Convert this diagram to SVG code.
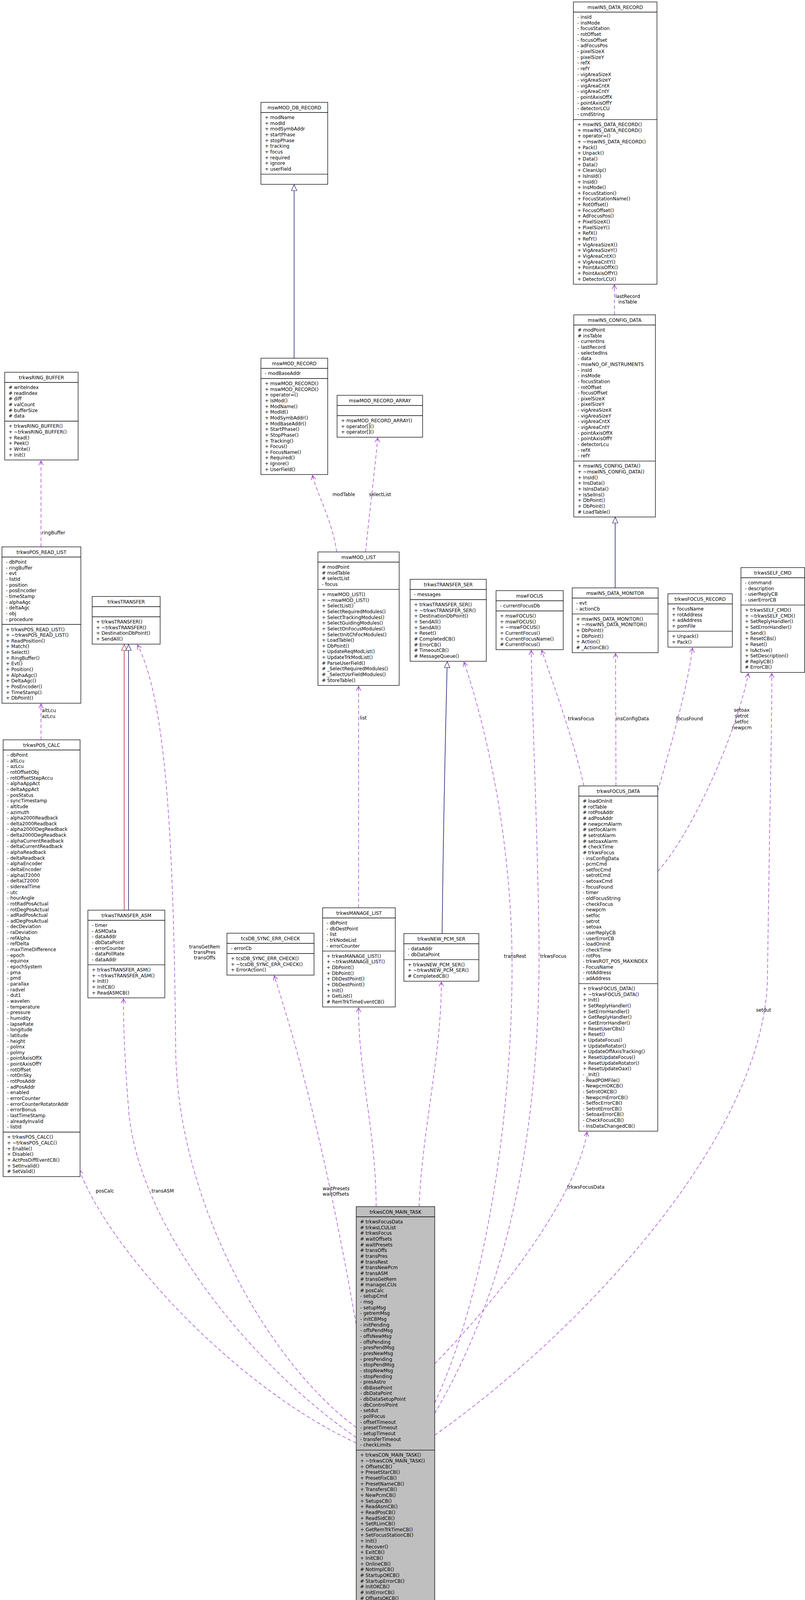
<svg xmlns="http://www.w3.org/2000/svg" width="2061" height="4432" viewBox="0 0 2061 4432">
<style>
.b{fill:#fff;stroke:#000;stroke-width:1.3}
.m{fill:#bfbfbf;stroke:#000;stroke-width:1.3}
.s{stroke:#000;stroke-width:1.3}
.t{font-family:"DejaVu Sans",sans-serif;font-size:12px;fill:#000}
.c{text-anchor:middle}
.u{fill:none;stroke:#9a32cd;stroke-width:1.3;stroke-dasharray:9,6;marker-end:url(#v)}
.i{fill:none;stroke:#191970;stroke-width:1.5;marker-end:url(#tri)}
.r{fill:none;stroke:#b22222;stroke-width:1.5;marker-end:url(#trr)}
</style>
<defs>
<marker id="v" markerWidth="14" markerHeight="14" refX="12" refY="7" orient="auto" markerUnits="userSpaceOnUse"><path d="M1,1 L12,7 L1,13 M4,7 L12,7" fill="none" stroke="#9a32cd" stroke-width="1.4"/></marker>
<marker id="tri" markerWidth="18" markerHeight="16" refX="16" refY="8" orient="auto" markerUnits="userSpaceOnUse"><path d="M1,1 L16,8 L1,15 Z" fill="#fff" stroke="#191970" stroke-width="1.2"/></marker>
<marker id="trr" markerWidth="18" markerHeight="16" refX="16" refY="8" orient="auto" markerUnits="userSpaceOnUse"><path d="M1,1 L16,8 L1,15 Z" fill="#fff" stroke="#b22222" stroke-width="1.2"/></marker>
</defs>
<rect width="2061" height="4432" fill="#fff"/>

<g id="connectors">
<path class="u" d="M1573,806 L1573,729"/>
<path class="i" d="M1575,1505 L1575,1324"/>
<path class="i" d="M753,917 L753,473"/>
<path class="u" d="M862,1413 C850,1330 810,1260 800,1217"/>
<path class="u" d="M936,1413 C945,1320 960,1200 967,1121"/>
<path class="u" d="M918,2324 L918,1757"/>
<path class="i" d="M1132,2390 C1135,2100 1140,1900 1145,1694"/>
<path class="r" d="M318,2330 L318,1650"/>
<path class="i" d="M329,2330 L329,1650"/>
<path class="u" d="M912,3654 C700,3500 460,3100 450,2700 C445,2200 430,1800 352,1651"/>
<path class="u" d="M912,3680 C650,3500 360,3150 330,2850 C318,2700 316,2620 316,2557"/>
<path class="u" d="M912,3694 C600,3550 280,3200 203,2995"/>
<path class="u" d="M105,1894 L105,1802"/>
<path class="u" d="M105,1400 L105,1180"/>
<path class="u" d="M912,3390 C860,3100 800,2800 702,2498"/>
<path class="u" d="M963,3089 C963,2900 918,2750 918,2580"/>
<path class="u" d="M1073,3089 C1080,2900 1130,2700 1130,2514"/>
<path class="u" d="M1113,3591 C1250,3300 1320,2800 1310,2400 C1300,2100 1240,1850 1188,1695"/>
<path class="u" d="M1113,3618 C1300,3300 1385,2900 1380,2400 C1375,2100 1365,1900 1360,1665"/>
<path class="u" d="M1495,2012 C1470,1900 1420,1760 1387,1665"/>
<path class="u" d="M1577,2012 L1576,1673"/>
<path class="u" d="M1684,2025 C1720,1900 1760,1760 1773,1659"/>
<path class="u" d="M1684,2230 C1760,2150 1880,1900 1916,1724"/>
<path class="u" d="M1113,3674 C1500,3400 1960,2900 1965,2500 C1970,2100 1976,1900 1976,1724"/>
<path class="u" d="M1113,3491 C1300,3300 1480,3050 1503,2898"/>
<text class="t c" x="1607" y="763">lastRecord</text>
<text class="t c" x="1607" y="777">insTable</text>
<text class="t c" x="880" y="1270">modTable</text>
<text class="t c" x="973" y="1270">selectList</text>
<text class="t" x="921" y="1842">list</text>
<text class="t" x="107" y="1368">ringBuffer</text>
<text class="t" x="107" y="1823">altLcu</text>
<text class="t" x="107" y="1838">azLcu</text>
<text class="t c" x="524" y="2428">transGetRem</text>
<text class="t c" x="524" y="2442">transPres</text>
<text class="t c" x="524" y="2456">transOffs</text>
<text class="t" x="1290" y="2452">transRest</text>
<text class="t" x="1383" y="2452">trkwsFocus</text>
<text class="t" x="1454" y="1844">trkwsFocus</text>
<text class="t" x="1577" y="1844">insConfigData</text>
<text class="t" x="1731" y="1844">focusFound</text>
<text class="t c" x="1899" y="1822">setoax</text>
<text class="t c" x="1899" y="1837">setrot</text>
<text class="t c" x="1899" y="1852">setfoc</text>
<text class="t c" x="1899" y="1867">newpcm</text>
<text class="t c" x="1955" y="2590">setdut</text>
<text class="t" x="1452" y="3043">trkwsFocusData</text>
<text class="t" x="826" y="3047">waitPresets</text>
<text class="t" x="826" y="3061">waitOffsets</text>
<text class="t" x="245" y="3053">posCalc</text>
<text class="t" x="388" y="3053">transASM</text>
</g>

<g id="mswINS_DATA_RECORD" transform="translate(1468,5)">
<rect class="b" width="214" height="722.6"/><line class="s" x1="0" x2="214" y1="26" y2="26"/><line class="s" x1="0" x2="214" y1="301.05" y2="301.05"/>
<text class="t c" x="107" y="17.5">mswINS_DATA_RECORD</text>
<text class="t" x="10" y="43"><tspan x="10">- insId</tspan><tspan x="10" dy="14.65">- insMode</tspan><tspan x="10" dy="14.65">- focusStation</tspan><tspan x="10" dy="14.65">- rotOffset</tspan><tspan x="10" dy="14.65">- focusOffset</tspan><tspan x="10" dy="14.65">- adFocusPos</tspan><tspan x="10" dy="14.65">- pixelSizeX</tspan><tspan x="10" dy="14.65">- pixelSizeY</tspan><tspan x="10" dy="14.65">- refX</tspan><tspan x="10" dy="14.65">- refY</tspan><tspan x="10" dy="14.65">- vigAreaSizeX</tspan><tspan x="10" dy="14.65">- vigAreaSizeY</tspan><tspan x="10" dy="14.65">- vigAreaCntX</tspan><tspan x="10" dy="14.65">- vigAreaCntY</tspan><tspan x="10" dy="14.65">- pointAxisOffX</tspan><tspan x="10" dy="14.65">- pointAxisOffY</tspan><tspan x="10" dy="14.65">- detectorLCU</tspan><tspan x="10" dy="14.65">- cmdString</tspan></text>
<text class="t" x="10" y="318"><tspan x="10">+ mswINS_DATA_RECORD()</tspan><tspan x="10" dy="14.65">+ mswINS_DATA_RECORD()</tspan><tspan x="10" dy="14.65">+ operator=()</tspan><tspan x="10" dy="14.65">+ ~mswINS_DATA_RECORD()</tspan><tspan x="10" dy="14.65">+ Pack()</tspan><tspan x="10" dy="14.65">+ Unpack()</tspan><tspan x="10" dy="14.65">+ Data()</tspan><tspan x="10" dy="14.65">+ Data()</tspan><tspan x="10" dy="14.65">+ CleanUp()</tspan><tspan x="10" dy="14.65">+ IsInsId()</tspan><tspan x="10" dy="14.65">+ InsId()</tspan><tspan x="10" dy="14.65">+ InsMode()</tspan><tspan x="10" dy="14.65">+ FocusStation()</tspan><tspan x="10" dy="14.65">+ FocusStationName()</tspan><tspan x="10" dy="14.65">+ RotOffset()</tspan><tspan x="10" dy="14.65">+ FocusOffset()</tspan><tspan x="10" dy="14.65">+ AdFocusPos()</tspan><tspan x="10" dy="14.65">+ PixelSizeX()</tspan><tspan x="10" dy="14.65">+ PixelSizeY()</tspan><tspan x="10" dy="14.65">+ RefX()</tspan><tspan x="10" dy="14.65">+ RefY()</tspan><tspan x="10" dy="14.65">+ VigAreaSizeX()</tspan><tspan x="10" dy="14.65">+ VigAreaSizeY()</tspan><tspan x="10" dy="14.65">+ VigAreaCntX()</tspan><tspan x="10" dy="14.65">+ VigAreaCntY()</tspan><tspan x="10" dy="14.65">+ PointAxisOffX()</tspan><tspan x="10" dy="14.65">+ PointAxisOffY()</tspan><tspan x="10" dy="14.65">+ DetectorLCU()</tspan></text>
</g>

<g id="mswINS_CONFIG_DATA" transform="translate(1469,806)">
<rect class="b" width="209" height="517.5"/><line class="s" x1="0" x2="209" y1="26" y2="26"/><line class="s" x1="0" x2="209" y1="374.3" y2="374.3"/>
<text class="t c" x="104.5" y="17.5">mswINS_CONFIG_DATA</text>
<text class="t" x="10" y="43"><tspan x="10"># modPoint</tspan><tspan x="10" dy="14.65"># insTable</tspan><tspan x="10" dy="14.65">- currentIns</tspan><tspan x="10" dy="14.65">- lastRecord</tspan><tspan x="10" dy="14.65">- selectedIns</tspan><tspan x="10" dy="14.65">- data</tspan><tspan x="10" dy="14.65">- mswNO_OF_INSTRUMENTS</tspan><tspan x="10" dy="14.65">- insId</tspan><tspan x="10" dy="14.65">- insMode</tspan><tspan x="10" dy="14.65">- focusStation</tspan><tspan x="10" dy="14.65">- rotOffset</tspan><tspan x="10" dy="14.65">- focusOffset</tspan><tspan x="10" dy="14.65">- pixelSizeX</tspan><tspan x="10" dy="14.65">- pixelSizeY</tspan><tspan x="10" dy="14.65">- vigAreaSizeX</tspan><tspan x="10" dy="14.65">- vigAreaSizeY</tspan><tspan x="10" dy="14.65">- vigAreaCntX</tspan><tspan x="10" dy="14.65">- vigAreaCntY</tspan><tspan x="10" dy="14.65">- pointAxisOffX</tspan><tspan x="10" dy="14.65">- pointAxisOffY</tspan><tspan x="10" dy="14.65">- detectorLcu</tspan><tspan x="10" dy="14.65">- refX</tspan><tspan x="10" dy="14.65">- refY</tspan></text>
<text class="t" x="10" y="391.3"><tspan x="10">+ mswINS_CONFIG_DATA()</tspan><tspan x="10" dy="14.65">+ ~mswINS_CONFIG_DATA()</tspan><tspan x="10" dy="14.65">+ InsId()</tspan><tspan x="10" dy="14.65">+ InsData()</tspan><tspan x="10" dy="14.65">+ IsInsData()</tspan><tspan x="10" dy="14.65">+ IsSelIns()</tspan><tspan x="10" dy="14.65">+ DbPoint()</tspan><tspan x="10" dy="14.65">+ DbPoint()</tspan><tspan x="10" dy="14.65"># LoadTable()</tspan></text>
</g>

<g id="mswINS_DATA_MONITOR" transform="translate(1465,1505)">
<rect class="b" width="220" height="165.9"/><line class="s" x1="0" x2="220" y1="26" y2="26"/><line class="s" x1="0" x2="220" y1="66.65" y2="66.65"/>
<text class="t c" x="110" y="17.5">mswINS_DATA_MONITOR</text>
<text class="t" x="10" y="43"><tspan x="10">- evt</tspan><tspan x="10" dy="14.65">- actionCb</tspan></text>
<text class="t" x="10" y="83.65"><tspan x="10">+ mswINS_DATA_MONITOR()</tspan><tspan x="10" dy="14.65">+ ~mswINS_DATA_MONITOR()</tspan><tspan x="10" dy="14.65">+ DbPoint()</tspan><tspan x="10" dy="14.65">+ DbPoint()</tspan><tspan x="10" dy="14.65">+ Action()</tspan><tspan x="10" dy="14.65"># _ActionCB()</tspan></text>
</g>

<g id="mswFOCUS" transform="translate(1270,1512)">
<rect class="b" width="172" height="151.25"/><line class="s" x1="0" x2="172" y1="26" y2="26"/><line class="s" x1="0" x2="172" y1="52" y2="52"/>
<text class="t c" x="86" y="17.5">mswFOCUS</text>
<text class="t" x="10" y="43">- currentFocusDb</text>
<text class="t" x="10" y="69"><tspan x="10">+ mswFOCUS()</tspan><tspan x="10" dy="14.65">+ mswFOCUS()</tspan><tspan x="10" dy="14.65">+ ~mswFOCUS()</tspan><tspan x="10" dy="14.65">+ CurrentFocus()</tspan><tspan x="10" dy="14.65">+ CurrentFocusName()</tspan><tspan x="10" dy="14.65"># CurrentFocus()</tspan></text>
</g>

<g id="trkwsFOCUS_RECORD" transform="translate(1710,1520)">
<rect class="b" width="165" height="136.6"/><line class="s" x1="0" x2="165" y1="26" y2="26"/><line class="s" x1="0" x2="165" y1="95.95" y2="95.95"/>
<text class="t c" x="82.5" y="17.5">trkwsFOCUS_RECORD</text>
<text class="t" x="10" y="43"><tspan x="10">+ focusName</tspan><tspan x="10" dy="14.65">+ rotAddress</tspan><tspan x="10" dy="14.65">+ adAddress</tspan><tspan x="10" dy="14.65">+ pomFile</tspan></text>
<text class="t" x="10" y="112.95"><tspan x="10">+ Unpack()</tspan><tspan x="10" dy="14.65">+ Pack()</tspan></text>
</g>

<g id="trkwsSELF_CMD" transform="translate(1897,1453)">
<rect class="b" width="163" height="268.45"/><line class="s" x1="0" x2="163" y1="26" y2="26"/><line class="s" x1="0" x2="163" y1="95.95" y2="95.95"/>
<text class="t c" x="81.5" y="17.5">trkwsSELF_CMD</text>
<text class="t" x="10" y="43"><tspan x="10">- command</tspan><tspan x="10" dy="14.65">- description</tspan><tspan x="10" dy="14.65">- userReplyCB</tspan><tspan x="10" dy="14.65">- userErrorCB</tspan></text>
<text class="t" x="10" y="112.95"><tspan x="10">+ trkwsSELF_CMD()</tspan><tspan x="10" dy="14.65">+ ~trkwsSELF_CMD()</tspan><tspan x="10" dy="14.65">+ SetReplyHandler()</tspan><tspan x="10" dy="14.65">+ SetErrorHandler()</tspan><tspan x="10" dy="14.65">+ Send()</tspan><tspan x="10" dy="14.65">+ ResetCBs()</tspan><tspan x="10" dy="14.65">+ Reset()</tspan><tspan x="10" dy="14.65">+ IsActive()</tspan><tspan x="10" dy="14.65">+ SetDescription()</tspan><tspan x="10" dy="14.65"># ReplyCB()</tspan><tspan x="10" dy="14.65"># ErrorCB()</tspan></text>
</g>

<g id="trkwsFOCUS_DATA" transform="translate(1482,2012)">
<rect class="b" width="202" height="883.75"/><line class="s" x1="0" x2="202" y1="26" y2="26"/><line class="s" x1="0" x2="202" y1="506.15" y2="506.15"/>
<text class="t c" x="101" y="17.5">trkwsFOCUS_DATA</text>
<text class="t" x="10" y="43"><tspan x="10"># loadOnInit</tspan><tspan x="10" dy="14.65"># rotTable</tspan><tspan x="10" dy="14.65"># rotPosAddr</tspan><tspan x="10" dy="14.65"># adPosAddr</tspan><tspan x="10" dy="14.65"># newpcmAlarm</tspan><tspan x="10" dy="14.65"># setfocAlarm</tspan><tspan x="10" dy="14.65"># setrotAlarm</tspan><tspan x="10" dy="14.65"># setoaxAlarm</tspan><tspan x="10" dy="14.65"># checkTime</tspan><tspan x="10" dy="14.65"># trkwsFocus</tspan><tspan x="10" dy="14.65">- insConfigData</tspan><tspan x="10" dy="14.65">- pcmCmd</tspan><tspan x="10" dy="14.65">- setfocCmd</tspan><tspan x="10" dy="14.65">- setrotCmd</tspan><tspan x="10" dy="14.65">- setoaxCmd</tspan><tspan x="10" dy="14.65">- focusFound</tspan><tspan x="10" dy="14.65">- timer</tspan><tspan x="10" dy="14.65">- oldFocusString</tspan><tspan x="10" dy="14.65">- checkFocus</tspan><tspan x="10" dy="14.65">- newpcm</tspan><tspan x="10" dy="14.65">- setfoc</tspan><tspan x="10" dy="14.65">- setrot</tspan><tspan x="10" dy="14.65">- setoax</tspan><tspan x="10" dy="14.65">- userReplyCB</tspan><tspan x="10" dy="14.65">- userErrorCB</tspan><tspan x="10" dy="14.65">- loadOnInit</tspan><tspan x="10" dy="14.65">- checkTime</tspan><tspan x="10" dy="14.65">- rotPos</tspan><tspan x="10" dy="14.65">- trkwsROT_POS_MAXINDEX</tspan><tspan x="10" dy="14.65">- FocusName</tspan><tspan x="10" dy="14.65">- rotAddress</tspan><tspan x="10" dy="14.65">- adAddress</tspan></text>
<text class="t" x="10" y="523.15"><tspan x="10">+ trkwsFOCUS_DATA()</tspan><tspan x="10" dy="14.65">+ ~trkwsFOCUS_DATA()</tspan><tspan x="10" dy="14.65">+ Init()</tspan><tspan x="10" dy="14.65">+ SetReplyHandler()</tspan><tspan x="10" dy="14.65">+ SetErrorHandler()</tspan><tspan x="10" dy="14.65">+ GetReplyHandler()</tspan><tspan x="10" dy="14.65">+ GetErrorHandler()</tspan><tspan x="10" dy="14.65">+ ResetUserCBs()</tspan><tspan x="10" dy="14.65">+ Reset()</tspan><tspan x="10" dy="14.65">+ UpdateFocus()</tspan><tspan x="10" dy="14.65">+ UpdateRotator()</tspan><tspan x="10" dy="14.65">+ UpdateOffAxisTracking()</tspan><tspan x="10" dy="14.65">+ ResetUpdateFocus()</tspan><tspan x="10" dy="14.65">+ ResetUpdateRotator()</tspan><tspan x="10" dy="14.65">+ ResetUpdateOax()</tspan><tspan x="10" dy="14.65">- _Init()</tspan><tspan x="10" dy="14.65">- ReadPOMFile()</tspan><tspan x="10" dy="14.65">- NewpcmOKCB()</tspan><tspan x="10" dy="14.65">- SetrotOKCB()</tspan><tspan x="10" dy="14.65">- NewpcmErrorCB()</tspan><tspan x="10" dy="14.65">- SetfocErrorCB()</tspan><tspan x="10" dy="14.65">- SetrotErrorCB()</tspan><tspan x="10" dy="14.65">- SetoaxErrorCB()</tspan><tspan x="10" dy="14.65">- CheckFocusCB()</tspan><tspan x="10" dy="14.65">- InsDataChangedCB()</tspan></text>
</g>

<g id="mswMOD_DB_RECORD" transform="translate(668,262)">
<rect class="b" width="171" height="209.85"/><line class="s" x1="0" x2="171" y1="26" y2="26"/><line class="s" x1="0" x2="171" y1="183.85" y2="183.85"/>
<text class="t c" x="85.5" y="17.5">mswMOD_DB_RECORD</text>
<text class="t" x="10" y="43"><tspan x="10">+ modName</tspan><tspan x="10" dy="14.65">+ modId</tspan><tspan x="10" dy="14.65">+ modSymbAddr</tspan><tspan x="10" dy="14.65">+ startPhase</tspan><tspan x="10" dy="14.65">+ stopPhase</tspan><tspan x="10" dy="14.65">+ tracking</tspan><tspan x="10" dy="14.65">+ focus</tspan><tspan x="10" dy="14.65">+ required</tspan><tspan x="10" dy="14.65">+ ignore</tspan><tspan x="10" dy="14.65">+ userField</tspan></text>
</g>

<g id="mswMOD_RECORD" transform="translate(668,917)">
<rect class="b" width="171" height="297.75"/><line class="s" x1="0" x2="171" y1="26" y2="26"/><line class="s" x1="0" x2="171" y1="52" y2="52"/>
<text class="t c" x="85.5" y="17.5">mswMOD_RECORD</text>
<text class="t" x="10" y="43">- modBaseAddr</text>
<text class="t" x="10" y="69"><tspan x="10">+ mswMOD_RECORD()</tspan><tspan x="10" dy="14.65">+ mswMOD_RECORD()</tspan><tspan x="10" dy="14.65">+ operator=()</tspan><tspan x="10" dy="14.65">+ IsMod()</tspan><tspan x="10" dy="14.65">+ ModName()</tspan><tspan x="10" dy="14.65">+ ModId()</tspan><tspan x="10" dy="14.65">+ ModSymbAddr()</tspan><tspan x="10" dy="14.65">+ ModBaseAddr()</tspan><tspan x="10" dy="14.65">+ StartPhase()</tspan><tspan x="10" dy="14.65">+ StopPhase()</tspan><tspan x="10" dy="14.65">+ Tracking()</tspan><tspan x="10" dy="14.65">+ Focus()</tspan><tspan x="10" dy="14.65">+ FocusName()</tspan><tspan x="10" dy="14.65">+ Required()</tspan><tspan x="10" dy="14.65">+ Ignore()</tspan><tspan x="10" dy="14.65">+ UserField()</tspan></text>
</g>

<g id="mswMOD_RECORD_ARRAY" transform="translate(863,1012)">
<rect class="b" width="219" height="107.3"/><line class="s" x1="0" x2="219" y1="26" y2="26"/><line class="s" x1="0" x2="219" y1="52" y2="52"/>
<text class="t c" x="109.5" y="17.5">mswMOD_RECORD_ARRAY</text>
<text class="t" x="10" y="69"><tspan x="10">+ mswMOD_RECORD_ARRAY()</tspan><tspan x="10" dy="14.65">+ operator[]()</tspan><tspan x="10" dy="14.65">+ operator[]()</tspan></text>
</g>

<g id="mswMOD_LIST" transform="translate(814,1413)">
<rect class="b" width="208" height="341.7"/><line class="s" x1="0" x2="208" y1="26" y2="26"/><line class="s" x1="0" x2="208" y1="95.95" y2="95.95"/>
<text class="t c" x="104" y="17.5">mswMOD_LIST</text>
<text class="t" x="10" y="43"><tspan x="10"># modPoint</tspan><tspan x="10" dy="14.65"># modTable</tspan><tspan x="10" dy="14.65"># selectList</tspan><tspan x="10" dy="14.65">- focus</tspan></text>
<text class="t" x="10" y="112.95"><tspan x="10">+ mswMOD_LIST()</tspan><tspan x="10" dy="14.65">+ ~mswMOD_LIST()</tspan><tspan x="10" dy="14.65">+ SelectList()</tspan><tspan x="10" dy="14.65">+ SelectRequiredModules()</tspan><tspan x="10" dy="14.65">+ SelectTrackingModules()</tspan><tspan x="10" dy="14.65">+ SelectGuidingModules()</tspan><tspan x="10" dy="14.65">+ SelectOnFocusModules()</tspan><tspan x="10" dy="14.65">+ SelectInitChFocModules()</tspan><tspan x="10" dy="14.65">+ LoadTable()</tspan><tspan x="10" dy="14.65">+ DbPoint()</tspan><tspan x="10" dy="14.65">+ UpdateReqModList()</tspan><tspan x="10" dy="14.65">+ UpdateTrkModList()</tspan><tspan x="10" dy="14.65"># ParseUserField()</tspan><tspan x="10" dy="14.65"># _SelectRequiredModules()</tspan><tspan x="10" dy="14.65"># _SelectUsrFieldModules()</tspan><tspan x="10" dy="14.65"># StoreTable()</tspan></text>
</g>

<g id="trkwsMANAGE_LIST" transform="translate(826,2324)">
<rect class="b" width="186" height="253.8"/><line class="s" x1="0" x2="186" y1="26" y2="26"/><line class="s" x1="0" x2="186" y1="110.6" y2="110.6"/>
<text class="t c" x="93" y="17.5">trkwsMANAGE_LIST</text>
<text class="t" x="10" y="43"><tspan x="10">- dbPoint</tspan><tspan x="10" dy="14.65">- dbDestPoint</tspan><tspan x="10" dy="14.65">- list</tspan><tspan x="10" dy="14.65">- trkNodeList</tspan><tspan x="10" dy="14.65">- errorCounter</tspan></text>
<text class="t" x="10" y="127.6"><tspan x="10">+ trkwsMANAGE_LIST()</tspan><tspan x="10" dy="14.65">+ ~trkwsMANAGE_LIST()</tspan><tspan x="10" dy="14.65">+ DbPoint()</tspan><tspan x="10" dy="14.65">+ DbPoint()</tspan><tspan x="10" dy="14.65">+ DbDestPoint()</tspan><tspan x="10" dy="14.65">+ DbDestPoint()</tspan><tspan x="10" dy="14.65">+ Init()</tspan><tspan x="10" dy="14.65">+ GetList()</tspan><tspan x="10" dy="14.65"># RemTrkTimeEventCB()</tspan></text>
</g>

<g id="trkwsTRANSFER_SER" transform="translate(1050,1483)">
<rect class="b" width="195" height="209.85"/><line class="s" x1="0" x2="195" y1="26" y2="26"/><line class="s" x1="0" x2="195" y1="52" y2="52"/>
<text class="t c" x="97.5" y="17.5">trkwsTRANSFER_SER</text>
<text class="t" x="10" y="43">- messages</text>
<text class="t" x="10" y="69"><tspan x="10">+ trkwsTRANSFER_SER()</tspan><tspan x="10" dy="14.65">+ ~trkwsTRANSFER_SER()</tspan><tspan x="10" dy="14.65">+ DestinationDbPoint()</tspan><tspan x="10" dy="14.65">+ SendAll()</tspan><tspan x="10" dy="14.65">+ SendAll()</tspan><tspan x="10" dy="14.65">+ Reset()</tspan><tspan x="10" dy="14.65"># CompletedCB()</tspan><tspan x="10" dy="14.65"># ErrorCB()</tspan><tspan x="10" dy="14.65"># TimeoutCB()</tspan><tspan x="10" dy="14.65"># MessageQueue()</tspan></text>
</g>

<g id="trkwsNEW_PCM_SER" transform="translate(1034,2390)">
<rect class="b" width="192" height="121.95"/><line class="s" x1="0" x2="192" y1="26" y2="26"/><line class="s" x1="0" x2="192" y1="66.65" y2="66.65"/>
<text class="t c" x="96" y="17.5">trkwsNEW_PCM_SER</text>
<text class="t" x="10" y="43"><tspan x="10">- dataAddr</tspan><tspan x="10" dy="14.65">- dbDataPoint</tspan></text>
<text class="t" x="10" y="83.65"><tspan x="10">+ trkwsNEW_PCM_SER()</tspan><tspan x="10" dy="14.65">+ ~trkwsNEW_PCM_SER()</tspan><tspan x="10" dy="14.65"># CompletedCB()</tspan></text>
</g>

<g id="trkwsTRANSFER" transform="translate(236,1527)">
<rect class="b" width="174" height="121.95"/><line class="s" x1="0" x2="174" y1="26" y2="26"/><line class="s" x1="0" x2="174" y1="52" y2="52"/>
<text class="t c" x="87" y="17.5">trkwsTRANSFER</text>
<text class="t" x="10" y="69"><tspan x="10">+ trkwsTRANSFER()</tspan><tspan x="10" dy="14.65">+ ~trkwsTRANSFER()</tspan><tspan x="10" dy="14.65">+ DestinationDbPoint()</tspan><tspan x="10" dy="14.65">+ SendAll()</tspan></text>
</g>

<g id="trkwsTRANSFER_ASM" transform="translate(225,2330)">
<rect class="b" width="197" height="224.5"/><line class="s" x1="0" x2="197" y1="26" y2="26"/><line class="s" x1="0" x2="197" y1="139.9" y2="139.9"/>
<text class="t c" x="98.5" y="17.5">trkwsTRANSFER_ASM</text>
<text class="t" x="10" y="43"><tspan x="10">- timer</tspan><tspan x="10" dy="14.65">- ASMData</tspan><tspan x="10" dy="14.65">- dataAddr</tspan><tspan x="10" dy="14.65">- dbDataPoint</tspan><tspan x="10" dy="14.65">- errorCounter</tspan><tspan x="10" dy="14.65">- dataPollRate</tspan><tspan x="10" dy="14.65">- dataAddr</tspan></text>
<text class="t" x="10" y="156.9"><tspan x="10">+ trkwsTRANSFER_ASM()</tspan><tspan x="10" dy="14.65">+ ~trkwsTRANSFER_ASM()</tspan><tspan x="10" dy="14.65">+ Init()</tspan><tspan x="10" dy="14.65">+ InitCB()</tspan><tspan x="10" dy="14.65">+ ReadASMCB()</tspan></text>
</g>

<g id="tcsDB_SYNC_ERR_CHECK" transform="translate(581,2389)">
<rect class="b" width="223" height="107.3"/><line class="s" x1="0" x2="223" y1="26" y2="26"/><line class="s" x1="0" x2="223" y1="52" y2="52"/>
<text class="t c" x="111.5" y="17.5">tcsDB_SYNC_ERR_CHECK</text>
<text class="t" x="10" y="43">- errorCb</text>
<text class="t" x="10" y="69"><tspan x="10">+ tcsDB_SYNC_ERR_CHECK()</tspan><tspan x="10" dy="14.65">+ ~tcsDB_SYNC_ERR_CHECK()</tspan><tspan x="10" dy="14.65">+ ErrorAction()</tspan></text>
</g>

<g id="trkwsRING_BUFFER" transform="translate(12,953)">
<rect class="b" width="188" height="224.5"/><line class="s" x1="0" x2="188" y1="26" y2="26"/><line class="s" x1="0" x2="188" y1="125.25" y2="125.25"/>
<text class="t c" x="94" y="17.5">trkwsRING_BUFFER</text>
<text class="t" x="10" y="43"><tspan x="10"># writeIndex</tspan><tspan x="10" dy="14.65"># readIndex</tspan><tspan x="10" dy="14.65"># diff</tspan><tspan x="10" dy="14.65"># valCount</tspan><tspan x="10" dy="14.65"># bufferSize</tspan><tspan x="10" dy="14.65"># data</tspan></text>
<text class="t" x="10" y="142.25"><tspan x="10">+ trkwsRING_BUFFER()</tspan><tspan x="10" dy="14.65">+ ~trkwsRING_BUFFER()</tspan><tspan x="10" dy="14.65">+ Read()</tspan><tspan x="10" dy="14.65">+ Peek()</tspan><tspan x="10" dy="14.65">+ Write()</tspan><tspan x="10" dy="14.65">+ Init()</tspan></text>
</g>

<g id="trkwsPOS_READ_LIST" transform="translate(5,1400)">
<rect class="b" width="202" height="400.3"/><line class="s" x1="0" x2="202" y1="26" y2="26"/><line class="s" x1="0" x2="202" y1="198.5" y2="198.5"/>
<text class="t c" x="101" y="17.5">trkwsPOS_READ_LIST</text>
<text class="t" x="10" y="43"><tspan x="10">- dbPoint</tspan><tspan x="10" dy="14.65">- ringBuffer</tspan><tspan x="10" dy="14.65">- evt</tspan><tspan x="10" dy="14.65">- listId</tspan><tspan x="10" dy="14.65">- position</tspan><tspan x="10" dy="14.65">- posEncoder</tspan><tspan x="10" dy="14.65">- timeStamp</tspan><tspan x="10" dy="14.65">- alphaAgc</tspan><tspan x="10" dy="14.65">- deltaAgc</tspan><tspan x="10" dy="14.65">- obj</tspan><tspan x="10" dy="14.65">- procedure</tspan></text>
<text class="t" x="10" y="215.5"><tspan x="10">+ trkwsPOS_READ_LIST()</tspan><tspan x="10" dy="14.65">+ ~trkwsPOS_READ_LIST()</tspan><tspan x="10" dy="14.65">+ ReadPosition()</tspan><tspan x="10" dy="14.65">+ Match()</tspan><tspan x="10" dy="14.65">+ Select()</tspan><tspan x="10" dy="14.65">+ RingBuffer()</tspan><tspan x="10" dy="14.65">+ Evt()</tspan><tspan x="10" dy="14.65">+ Position()</tspan><tspan x="10" dy="14.65">+ AlphaAgc()</tspan><tspan x="10" dy="14.65">+ DeltaAgc()</tspan><tspan x="10" dy="14.65">+ PosEncoder()</tspan><tspan x="10" dy="14.65">+ TimeStamp()</tspan><tspan x="10" dy="14.65">+ DbPoint()</tspan></text>
</g>

<g id="trkwsPOS_CALC" transform="translate(8,1894)">
<rect class="b" width="197" height="1118.15"/><line class="s" x1="0" x2="197" y1="26" y2="26"/><line class="s" x1="0" x2="197" y1="1004.25" y2="1004.25"/>
<text class="t c" x="98.5" y="17.5">trkwsPOS_CALC</text>
<text class="t" x="10" y="43"><tspan x="10">- dbPoint</tspan><tspan x="10" dy="14.65">- altLcu</tspan><tspan x="10" dy="14.65">- azLcu</tspan><tspan x="10" dy="14.65">- rotOffsetObj</tspan><tspan x="10" dy="14.65">- rotOffsetStepAccu</tspan><tspan x="10" dy="14.65">- alphaAppAct</tspan><tspan x="10" dy="14.65">- deltaAppAct</tspan><tspan x="10" dy="14.65">- posStatus</tspan><tspan x="10" dy="14.65">- syncTimestamp</tspan><tspan x="10" dy="14.65">- altitude</tspan><tspan x="10" dy="14.65">- azimuth</tspan><tspan x="10" dy="14.65">- alpha2000Readback</tspan><tspan x="10" dy="14.65">- delta2000Readback</tspan><tspan x="10" dy="14.65">- alpha2000DegReadback</tspan><tspan x="10" dy="14.65">- delta2000DegReadback</tspan><tspan x="10" dy="14.65">- alphaCurrentReadback</tspan><tspan x="10" dy="14.65">- deltaCurrentReadback</tspan><tspan x="10" dy="14.65">- alphaReadback</tspan><tspan x="10" dy="14.65">- deltaReadback</tspan><tspan x="10" dy="14.65">- alphaEncoder</tspan><tspan x="10" dy="14.65">- deltaEncoder</tspan><tspan x="10" dy="14.65">- alphaLT2000</tspan><tspan x="10" dy="14.65">- deltaLT2000</tspan><tspan x="10" dy="14.65">- siderealTime</tspan><tspan x="10" dy="14.65">- utc</tspan><tspan x="10" dy="14.65">- hourAngle</tspan><tspan x="10" dy="14.65">- rotRadPosActual</tspan><tspan x="10" dy="14.65">- rotDegPosActual</tspan><tspan x="10" dy="14.65">- adRadPosActual</tspan><tspan x="10" dy="14.65">- adDegPosActual</tspan><tspan x="10" dy="14.65">- decDeviation</tspan><tspan x="10" dy="14.65">- raDeviation</tspan><tspan x="10" dy="14.65">- refAlpha</tspan><tspan x="10" dy="14.65">- refDelta</tspan><tspan x="10" dy="14.65">- maxTimeDifference</tspan><tspan x="10" dy="14.65">- epoch</tspan><tspan x="10" dy="14.65">- equinox</tspan><tspan x="10" dy="14.65">- epochSystem</tspan><tspan x="10" dy="14.65">- pma</tspan><tspan x="10" dy="14.65">- pmd</tspan><tspan x="10" dy="14.65">- parallax</tspan><tspan x="10" dy="14.65">- radvel</tspan><tspan x="10" dy="14.65">- dut1</tspan><tspan x="10" dy="14.65">- wavelen</tspan><tspan x="10" dy="14.65">- temperature</tspan><tspan x="10" dy="14.65">- pressure</tspan><tspan x="10" dy="14.65">- humidity</tspan><tspan x="10" dy="14.65">- lapseRate</tspan><tspan x="10" dy="14.65">- longitude</tspan><tspan x="10" dy="14.65">- latitude</tspan><tspan x="10" dy="14.65">- height</tspan><tspan x="10" dy="14.65">- polmx</tspan><tspan x="10" dy="14.65">- polmy</tspan><tspan x="10" dy="14.65">- pointAxisOffX</tspan><tspan x="10" dy="14.65">- pointAxisOffY</tspan><tspan x="10" dy="14.65">- rotOffset</tspan><tspan x="10" dy="14.65">- rotOnSky</tspan><tspan x="10" dy="14.65">- rotPosAddr</tspan><tspan x="10" dy="14.65">- adPosAddr</tspan><tspan x="10" dy="14.65">- enabled</tspan><tspan x="10" dy="14.65">- errorCounter</tspan><tspan x="10" dy="14.65">- errorCounterRotatorAddr</tspan><tspan x="10" dy="14.65">- errorBonus</tspan><tspan x="10" dy="14.65">- lastTimeStamp</tspan><tspan x="10" dy="14.65">- alreadyInvalid</tspan><tspan x="10" dy="14.65">- listId</tspan></text>
<text class="t" x="10" y="1021.25"><tspan x="10">+ trkwsPOS_CALC()</tspan><tspan x="10" dy="14.65">+ ~trkwsPOS_CALC()</tspan><tspan x="10" dy="14.65">+ Enable()</tspan><tspan x="10" dy="14.65">+ Disable()</tspan><tspan x="10" dy="14.65">+ ActPosDiffEventCB()</tspan><tspan x="10" dy="14.65">+ SetInvalid()</tspan><tspan x="10" dy="14.65"># SetValid()</tspan></text>
</g>

<g id="trkwsCON_MAIN_TASK" transform="translate(912,3089)">
<rect class="m" width="201" height="1337.9"/><line class="s" x1="0" x2="201" y1="26" y2="26"/><line class="s" x1="0" x2="201" y1="623.35" y2="623.35"/>
<text class="t c" x="100.5" y="17.5">trkwsCON_MAIN_TASK</text>
<text class="t" x="10" y="43"><tspan x="10"># trkwsFocusData</tspan><tspan x="10" dy="14.65"># trkwsLCUList</tspan><tspan x="10" dy="14.65"># trkwsFocus</tspan><tspan x="10" dy="14.65"># waitOffsets</tspan><tspan x="10" dy="14.65"># waitPresets</tspan><tspan x="10" dy="14.65"># transOffs</tspan><tspan x="10" dy="14.65"># transPres</tspan><tspan x="10" dy="14.65"># transRest</tspan><tspan x="10" dy="14.65"># transNewPcm</tspan><tspan x="10" dy="14.65"># transASM</tspan><tspan x="10" dy="14.65"># transGetRem</tspan><tspan x="10" dy="14.65"># manageLCUs</tspan><tspan x="10" dy="14.65"># posCalc</tspan><tspan x="10" dy="14.65">- setupCmd</tspan><tspan x="10" dy="14.65">- msg</tspan><tspan x="10" dy="14.65">- setupMsg</tspan><tspan x="10" dy="14.65">- getremMsg</tspan><tspan x="10" dy="14.65">- initCBMsg</tspan><tspan x="10" dy="14.65">- initPending</tspan><tspan x="10" dy="14.65">- offsPendMsg</tspan><tspan x="10" dy="14.65">- offsNewMsg</tspan><tspan x="10" dy="14.65">- offsPending</tspan><tspan x="10" dy="14.65">- presPendMsg</tspan><tspan x="10" dy="14.65">- presNewMsg</tspan><tspan x="10" dy="14.65">- presPending</tspan><tspan x="10" dy="14.65">- stopPendMsg</tspan><tspan x="10" dy="14.65">- stopNewMsg</tspan><tspan x="10" dy="14.65">- stopPending</tspan><tspan x="10" dy="14.65">- presAstro</tspan><tspan x="10" dy="14.65">- dbBasePoint</tspan><tspan x="10" dy="14.65">- dbDataPoint</tspan><tspan x="10" dy="14.65">- dbDataSetupPoint</tspan><tspan x="10" dy="14.65">- dbControlPoint</tspan><tspan x="10" dy="14.65">- setdut</tspan><tspan x="10" dy="14.65">- pollFocus</tspan><tspan x="10" dy="14.65">- offsetTimeout</tspan><tspan x="10" dy="14.65">- presetTimeout</tspan><tspan x="10" dy="14.65">- setupTimeout</tspan><tspan x="10" dy="14.65">- transferTimeout</tspan><tspan x="10" dy="14.65">- checkLimits</tspan></text>
<text class="t" x="10" y="640.35"><tspan x="10">+ trkwsCON_MAIN_TASK()</tspan><tspan x="10" dy="14.65">+ ~trkwsCON_MAIN_TASK()</tspan><tspan x="10" dy="14.65">+ OffsetsCB()</tspan><tspan x="10" dy="14.65">+ PresetStarCB()</tspan><tspan x="10" dy="14.65">+ PresetFixCB()</tspan><tspan x="10" dy="14.65">+ PresetNameCB()</tspan><tspan x="10" dy="14.65">+ TransfersCB()</tspan><tspan x="10" dy="14.65">+ NewPcmCB()</tspan><tspan x="10" dy="14.65">+ SetupsCB()</tspan><tspan x="10" dy="14.65">+ ReadAsmCB()</tspan><tspan x="10" dy="14.65">+ ReadPosCB()</tspan><tspan x="10" dy="14.65">+ ReadSidCB()</tspan><tspan x="10" dy="14.65">+ SetRLimCB()</tspan><tspan x="10" dy="14.65">+ GetRemTrkTimeCB()</tspan><tspan x="10" dy="14.65">+ SetFocusStationCB()</tspan><tspan x="10" dy="14.65">+ Init()</tspan><tspan x="10" dy="14.65">+ Recover()</tspan><tspan x="10" dy="14.65">+ ExitCB()</tspan><tspan x="10" dy="14.65">+ InitCB()</tspan><tspan x="10" dy="14.65">+ OnlineCB()</tspan><tspan x="10" dy="14.65"># NotImplCB()</tspan><tspan x="10" dy="14.65"># StartupOKCB()</tspan><tspan x="10" dy="14.65"># StartupErrorCB()</tspan><tspan x="10" dy="14.65"># InitOKCB()</tspan><tspan x="10" dy="14.65"># InitErrorCB()</tspan><tspan x="10" dy="14.65"># OffsetsOKCB()</tspan><tspan x="10" dy="14.65"># OffsetsErrorCB()</tspan><tspan x="10" dy="14.65"># PresetsOKCB()</tspan><tspan x="10" dy="14.65"># PresetStarUpdFocOKCB()</tspan><tspan x="10" dy="14.65"># PresetStarUpdRotOKCB()</tspan><tspan x="10" dy="14.65"># PresetStarUpdOaxOKCB()</tspan><tspan x="10" dy="14.65"># PresetsErrorCB()</tspan><tspan x="10" dy="14.65"># GetRemOKCB()</tspan><tspan x="10" dy="14.65"># GetRemErrorCB()</tspan><tspan x="10" dy="14.65"># SetupsOKCB()</tspan><tspan x="10" dy="14.65"># SetupsErrorCB()</tspan><tspan x="10" dy="14.65"># SetDutOKCB()</tspan><tspan x="10" dy="14.65"># SetDutErrorCB()</tspan><tspan x="10" dy="14.65"># IsOwnProcess()</tspan><tspan x="10" dy="14.65"># NewPresetProlog()</tspan><tspan x="10" dy="14.65"># ReadModSubstate()</tspan><tspan x="10" dy="14.65"># ReadModState()</tspan><tspan x="10" dy="14.65"># CheckSubstate()</tspan><tspan x="10" dy="14.65"># PresetAct()</tspan><tspan x="10" dy="14.65"># ExpandCmd()</tspan><tspan x="10" dy="14.65">- BackupAttr()</tspan><tspan x="10" dy="14.65">- RestoreAttr()</tspan><tspan x="10" dy="14.65">- CheckLimits()</tspan></text>
</g>
</svg>
